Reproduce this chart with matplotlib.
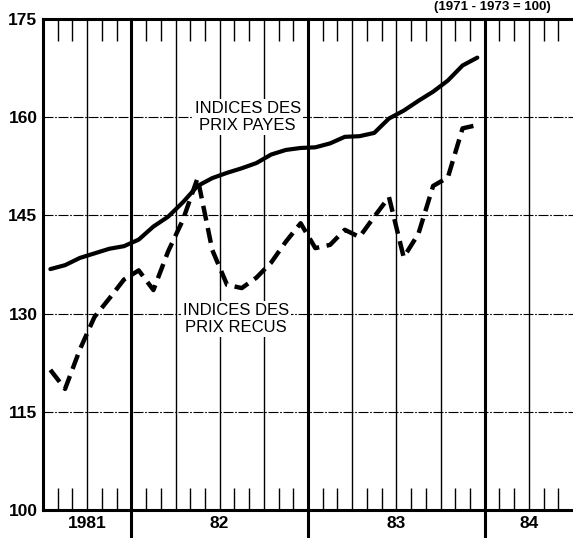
# Indices des prix payes / recus, monthly, Jul 1981 - Dec 1983
import numpy as np
import matplotlib
matplotlib.use('Agg')
import matplotlib.pyplot as plt

plt.rcParams['font.family'] = ['Liberation Sans', 'DejaVu Sans']

# months counted from July 1981 (0 = Jul 1981), points at mid-month
months = np.arange(30) + 0.5

prix_payes = [136.8, 137.4, 138.5, 139.2, 139.9, 140.3, 141.3, 143.3, 144.8, 147.0,
              149.5, 150.7, 151.5, 152.2, 153.0, 154.3, 155.0, 155.3, 155.4, 156.0,
              157.0, 157.1, 157.6, 159.8, 161.0, 162.5, 163.9, 165.6, 167.9, 169.1]

prix_recus = [121.4, 118.5, 124.5, 129.5, 132.3, 135.2, 136.6, 133.6, 139.5, 144.3,
              150.7, 139.7, 134.4, 133.9, 135.5, 137.8, 141.0, 143.8, 140.0, 140.5,
              142.8, 141.7, 144.8, 147.8, 138.6, 142.2, 149.5, 150.8, 158.3, 158.8]

y_ticks = [100, 115, 130, 145, 160, 175]
year_labels = ['1981', '82', '83', '84']
year_label_pos = [3, 12, 24, 33]
year_lines = [6, 18, 30]
quarter_lines = [3, 9, 12, 15, 21, 24, 27, 33]

fig = plt.figure(figsize=(5.73, 5.38), dpi=100)
ax = fig.add_axes([43 / 573, 28 / 538, 530 / 573, 491 / 538])

ax.set_xlim(0, 36)
ax.set_ylim(100, 175)

# grid
for v in y_ticks[1:-1]:
    ax.axhline(v, color='black', lw=0.8, linestyle=(0, (9, 1.5, 1.5, 1.5)), zorder=1)
for q in quarter_lines:
    ax.axvline(q, color='black', lw=1.0, zorder=1)
for yl in year_lines:
    ax.axvline(yl, ymin=-0.06, ymax=1, color='black', lw=2.2, zorder=1, clip_on=False)

# month ticks
minor = [m for m in range(1, 36) if m % 3 != 0]
ax.set_xticks(minor, minor=True)
ax.set_xticks(year_label_pos)
ax.set_xticklabels(year_labels)
ax.tick_params(axis='x', which='minor', direction='in', length=16, width=1.0,
               top=True, bottom=True)
ax.tick_params(axis='x', which='major', length=0, pad=4, labelsize=12.5)
ax.set_yticks(y_ticks)
ax.tick_params(axis='y', length=0, pad=4, labelsize=12.5)
for lab in ax.get_xticklabels() + ax.get_yticklabels():
    lab.set_fontweight('bold')

for s in ['left', 'bottom', 'top']:
    ax.spines[s].set_linewidth(2.2)
ax.spines['right'].set_visible(False)

ax.plot(months, prix_payes, color='black', lw=3.0, solid_capstyle='round', zorder=4)
ax.plot(months, prix_recus, color='black', lw=3.2, linestyle=(0, (3.4, 1.7)), zorder=4)

box = dict(facecolor='white', edgecolor='none', pad=1.5)
ax.text(13.9, 160, 'INDICES DES\nPRIX PAYES', ha='center', va='center',
        fontsize=12, linespacing=1.15, bbox=box, zorder=3)
ax.text(13.1, 129.2, 'INDICES DES\nPRIX RECUS', ha='center', va='center',
        fontsize=12, linespacing=1.15, bbox=box, zorder=3)

fig.text(0.86, 0.999, '(1971 - 1973 = 100)', ha='center', va='top',
         fontsize=9.5, fontweight='bold')

fig.savefig('out.png', dpi=100)
